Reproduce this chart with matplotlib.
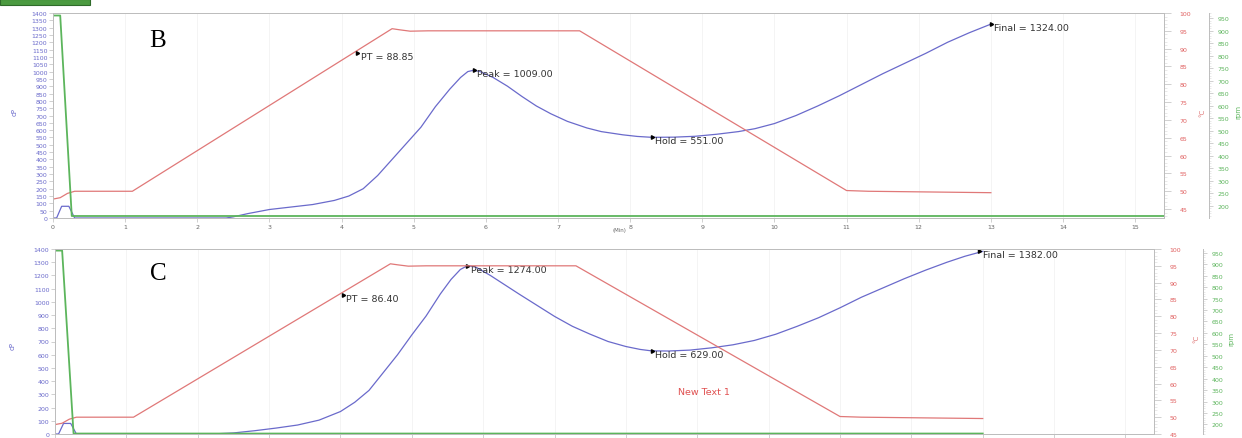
import matplotlib
matplotlib.use("Agg")
import matplotlib.pyplot as plt
from matplotlib.patches import Rectangle
from matplotlib.ticker import MultipleLocator

# --- panel B: viscosity (cP) vs time (min)
time_b = [0.0, 0.05, 0.12, 0.22, 0.30, 2.4, 2.5, 2.7, 3.0, 3.3, 3.6, 3.9, 4.1, 4.3, 4.5,
          4.7, 4.9, 5.1, 5.3, 5.5, 5.65, 5.75, 5.83, 5.92, 6.1, 6.3, 6.5, 6.7, 6.9, 7.13,
          7.4, 7.6, 7.9, 8.1, 8.3, 8.6, 8.9, 9.2, 9.5, 9.73, 10.0, 10.3, 10.6, 10.9, 11.2,
          11.5, 11.8, 12.1, 12.4, 12.7, 13.0]
visc_b = [0, 0, 80, 80, 0, 0, 8, 30, 58, 75, 92, 120, 150, 200, 290,
          400, 510, 620, 760, 880, 960, 1000, 1009, 1000, 960, 900, 830, 765, 712, 660,
          615, 590, 568, 557, 551, 552, 558, 572, 590, 610, 645, 700, 765, 835, 910,
          985, 1055, 1125, 1200, 1265, 1324]

# --- panel C
time_c = [0.0, 0.05, 0.12, 0.22, 0.30, 2.2, 2.5, 2.8, 3.1, 3.4, 3.7, 4.0, 4.2, 4.4, 4.55,
          4.8, 5.0, 5.2, 5.4, 5.55, 5.68, 5.78, 5.9, 6.1, 6.3, 6.5, 6.75, 7.0, 7.25, 7.5,
          7.75, 8.0, 8.2, 8.36, 8.6, 8.9, 9.2, 9.5, 9.8, 10.1, 10.4, 10.7, 11.0, 11.3, 11.6,
          11.9, 12.2, 12.5, 12.75, 13.0]
visc_c = [0, 0, 80, 80, 0, 0, 8, 25, 45, 68, 105, 170, 240, 330, 431,
          600, 750, 893, 1060, 1170, 1245, 1274, 1262, 1200, 1130, 1060, 975, 890, 815, 755,
          700, 662, 640, 629, 628, 635, 652, 675, 708, 755, 815, 880, 955, 1035, 1105,
          1175, 1240, 1300, 1345, 1382]

# temperature profile (deg C), same test profile in both runs
temp_time = [0.0, 0.1, 0.2, 0.3, 1.1, 4.7, 4.8, 4.95, 5.2, 7.3, 11.0, 11.3, 13.0]
temp_vals = [47.8, 48.2, 49.4, 50.0, 50.0, 95.6, 95.3, 94.9, 95.0, 95.0, 50.2, 50.0, 49.6]

# paddle speed (rpm)
speed_time_b = [0.0, 0.1, 0.26, 15.4]
speed_time_c = [0.0, 0.1, 0.26, 13.0]
speed_vals = [960, 960, 160, 160]

# markers: (label, time, value, axis) axis 't' = temperature, 'v' = viscosity
marks_b = [("PT = 88.85", 4.22, 88.85, "t"), ("Peak = 1009.00", 5.83, 1009, "v"),
           ("Hold = 551.00", 8.3, 551, "v"), ("Final = 1324.00", 13.0, 1324, "v")]
marks_c = [("PT = 86.40", 4.03, 86.40, "t"), ("Peak = 1274.00", 5.78, 1274, "v"),
           ("Hold = 629.00", 8.36, 629, "v"), ("Final = 1382.00", 12.95, 1382, "v")]

BLUE = "#6a6acb"
RED = "#e07878"
GREEN = "#5cb55c"
SPINE = "#bdbdbd"

W, H = 1242, 439
fig = plt.figure(figsize=(W / 100, H / 100), dpi=100)

# green tab at the top-left corner of the screenshot
fig.patches.append(Rectangle((0, 1 - 6 / H), 90 / W, 6 / H, transform=fig.transFigure,
                             facecolor="#4b9a40", edgecolor="#2f6b2a", lw=0.8))


def grey_spines(a):
    for sp in a.spines.values():
        sp.set_color(SPINE)
        sp.set_linewidth(0.7)


def draw_panel(rect, t_v, v, t_s, s, marks, letter, vstep, tlim, slim, green_off):
    ax = fig.add_axes(rect)
    ax.plot(t_v, v, color=BLUE, lw=0.9)
    ax.set_xlim(0, 15.4)
    ax.set_ylim(0, 1400)
    ax.set_yticks(range(0, 1401, vstep))
    ax.set_xticks(range(0, 16))
    ax.grid(axis="x", color="#f3f3f3", lw=0.6)
    ax.tick_params(axis="y", colors=SPINE, labelcolor=BLUE, labelsize=4.5, length=3, width=0.5, pad=1)
    ax.tick_params(axis="x", colors=SPINE, labelcolor="#666666", labelsize=4.5, length=3, width=0.5, pad=1)
    grey_spines(ax)
    ax.set_ylabel("cP", color=BLUE, fontsize=5)

    axt = ax.twinx()
    axt.plot(temp_time, temp_vals, color=RED, lw=0.9)
    axt.set_ylim(*tlim)
    axt.set_yticks(range(45, 101, 5))
    axt.yaxis.set_minor_locator(MultipleLocator(1))
    axt.tick_params(axis="y", colors=SPINE, labelcolor="#e06060", labelsize=4.5, length=5, width=0.5, pad=6)
    axt.tick_params(axis="y", which="minor", colors="#d8d8d8", length=2, width=0.4)
    grey_spines(axt)
    axt.set_ylabel("°C", color=RED, fontsize=5)

    axs = ax.twinx()
    axs.plot(t_s, s, color=GREEN, lw=1.3)
    axs.set_ylim(*slim)
    axs.set_yticks(range(200, 951, 50))
    axs.yaxis.set_minor_locator(MultipleLocator(10))
    grey_spines(axs)
    axs.spines["right"].set_position(("axes", green_off))
    axs.tick_params(axis="y", colors=SPINE, labelcolor=GREEN, labelsize=4.5, length=3, width=0.5, pad=3)
    axs.tick_params(axis="y", which="minor", colors="#d8d8d8", length=1.5, width=0.4)
    axs.set_ylabel("rpm", color=GREEN, fontsize=5)

    for text, t, val, which in marks:
        target = axt if which == "t" else ax
        target.plot([t], [val], marker=(3, 0, 30), color="black", ms=3, zorder=5)
        target.annotate(text, (t, val), xytext=(2.5, -2.5), textcoords="offset points",
                        fontsize=6.8, color="#333333", va="center", ha="left")

    ax.text(0.094, 0.87, letter, transform=ax.transAxes, fontsize=18,
            family="Liberation Serif", ha="center", va="center", color="black")
    return ax, axt, axs


# panel B
axB, axBt, axBs = draw_panel([53 / W, 1 - 219 / H, 1111 / W, 205 / H],
                             time_b, visc_b, speed_time_b, speed_vals, marks_b,
                             "B", 50, (42.5, 100), (152, 970), 1.0405)
axB.set_xlabel("(Min)", fontsize=4, color="#666666")
axB.xaxis.set_label_coords(0.51, -0.045)
axB.yaxis.set_label_coords(-0.032, 0.52)
axBt.yaxis.set_label_coords(1.0315, 0.52)
axBs.yaxis.set_label_coords(1.064, 0.52)

# panel C (its time labels fall below the screenshot edge)
axC, axCt, axCs = draw_panel([55 / W, 1 - 435 / H, 1099 / W, 185 / H],
                             time_c, visc_c, speed_time_c, speed_vals, marks_c,
                             "C", 100, (45, 100), (158, 967), 1.0446)
axC.tick_params(axis="x", labelbottom=False)
axC.yaxis.set_label_coords(-0.036, 0.48)
axCt.yaxis.set_label_coords(1.0355, 0.52)
axCs.yaxis.set_label_coords(1.068, 0.52)
axC.text(9.09, 318, "New Text 1", color="#e05050", fontsize=6.8, ha="center", va="center")

fig.savefig("out.png", dpi=100)
